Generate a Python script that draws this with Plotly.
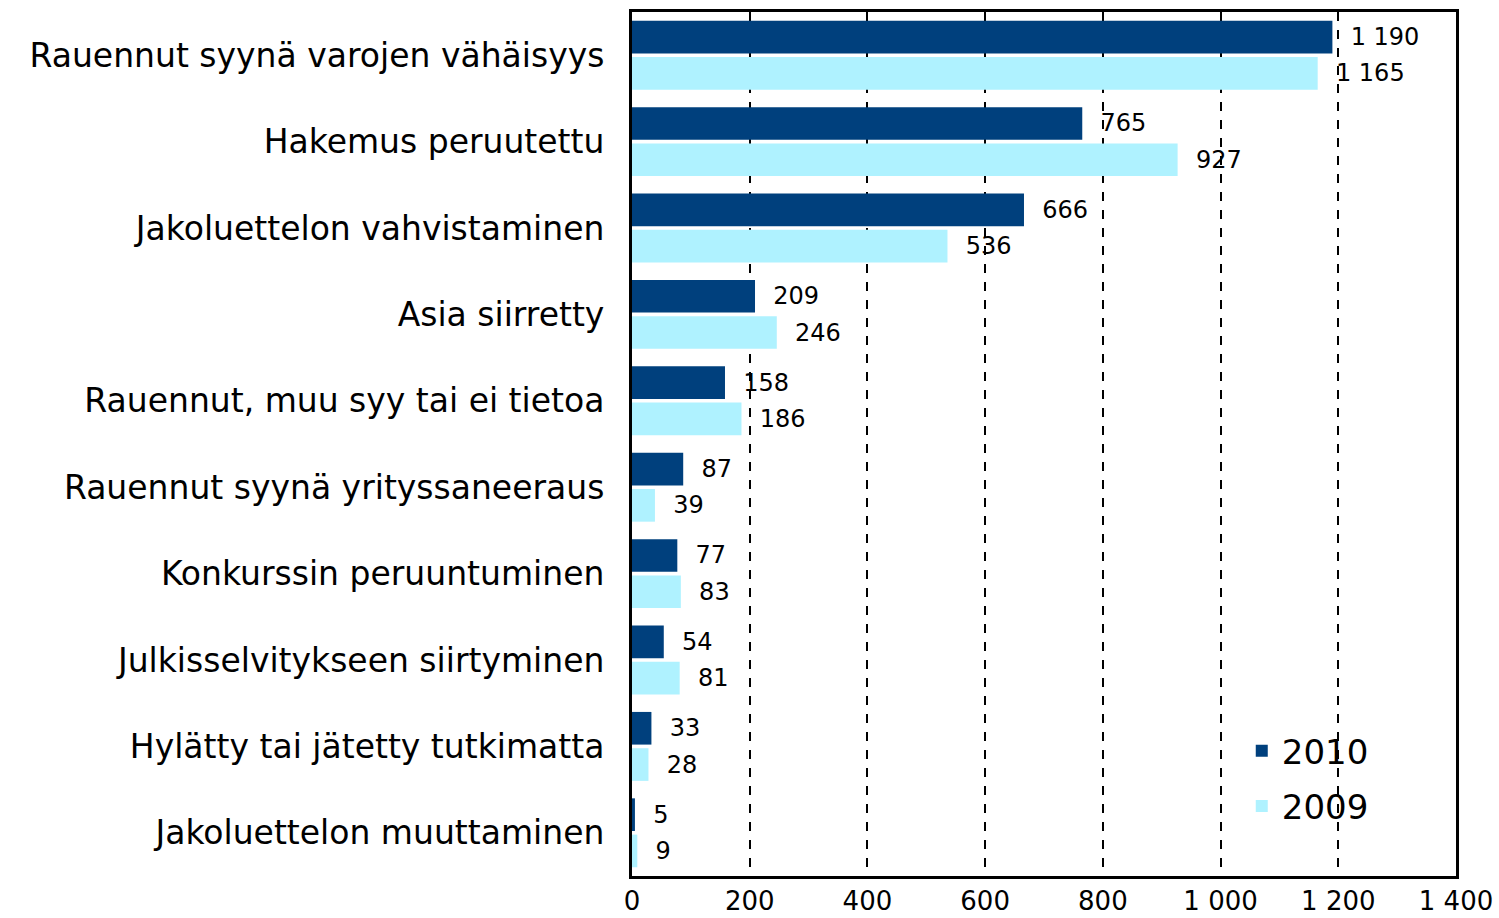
import plotly.graph_objects as go

categories = [
    "Rauennut syynä varojen vähäisyys",
    "Hakemus peruutettu",
    "Jakoluettelon vahvistaminen",
    "Asia siirretty",
    "Rauennut, muu syy tai ei tietoa",
    "Rauennut syynä yrityssaneeraus",
    "Konkurssin peruuntuminen",
    "Julkisselvitykseen siirtyminen",
    "Hylätty tai jätetty tutkimatta",
    "Jakoluettelon muuttaminen",
]
values_2010 = [1190, 765, 666, 209, 158, 87, 77, 54, 33, 5]
values_2009 = [1165, 927, 536, 246, 186, 39, 83, 81, 28, 9]
tick_values = [0, 200, 400, 600, 800, 1000, 1200, 1400]
tick_labels = ["0", "200", "400", "600", "800", "1 000", "1 200", "1 400"]

DARK = "#00407d"
LIGHT = "#aff2ff"
FONT = "DejaVu Sans"


def fmt(v):
    return "\u00a0\u00a0" + f"{v:,}".replace(",", " ")


fig = go.Figure()
fig.add_trace(go.Bar(
    y=categories, x=values_2010, name="2010", orientation="h",
    marker=dict(color=DARK, line=dict(width=0)),
    text=[fmt(v) for v in values_2010], textposition="outside",
    textfont=dict(family=FONT, size=24, color="black"),
    cliponaxis=False, legendgroup="a",
))
fig.add_trace(go.Bar(
    y=categories, x=values_2009, name="2009", orientation="h",
    marker=dict(color=LIGHT, line=dict(width=0)),
    text=[fmt(v) for v in values_2009], textposition="outside",
    textfont=dict(family=FONT, size=24, color="black"),
    cliponaxis=False, legendgroup="b",
))

fig.update_layout(
    width=1499, height=918,
    barmode="group", bargap=0.16, bargroupgap=0.1,
    plot_bgcolor="white", paper_bgcolor="white",
    margin=dict(l=632, r=43, t=12, b=42),
    font=dict(family=FONT, color="black"),
    showlegend=True,
    legend=dict(
        x=0.74, y=0.178, xanchor="left", yanchor="top",
        bgcolor="rgba(0,0,0,0)", font=dict(family=FONT, size=34),
        tracegroupgap=8, itemwidth=30,
    ),
)
fig.update_xaxes(
    range=[0, 1400], tickvals=tick_values, ticktext=tick_labels,
    showgrid=True, gridcolor="black", gridwidth=2, griddash="dash",
    zeroline=False, showline=True, linecolor="black", linewidth=3, mirror=True,
    ticks="", tickfont=dict(family=FONT, size=26), automargin=False,
)
fig.update_yaxes(
    autorange="reversed", showgrid=False, zeroline=False,
    showline=True, linecolor="black", linewidth=3, mirror=True,
    ticks="", tickfont=dict(family=FONT, size=33), automargin=False,
    ticklabelstandoff=18,
)

fig.write_html(
    "out.html",
    config={"displayModeBar": False},
    post_script="document.body.style.margin='0px';document.body.style.overflow='hidden';",
)
